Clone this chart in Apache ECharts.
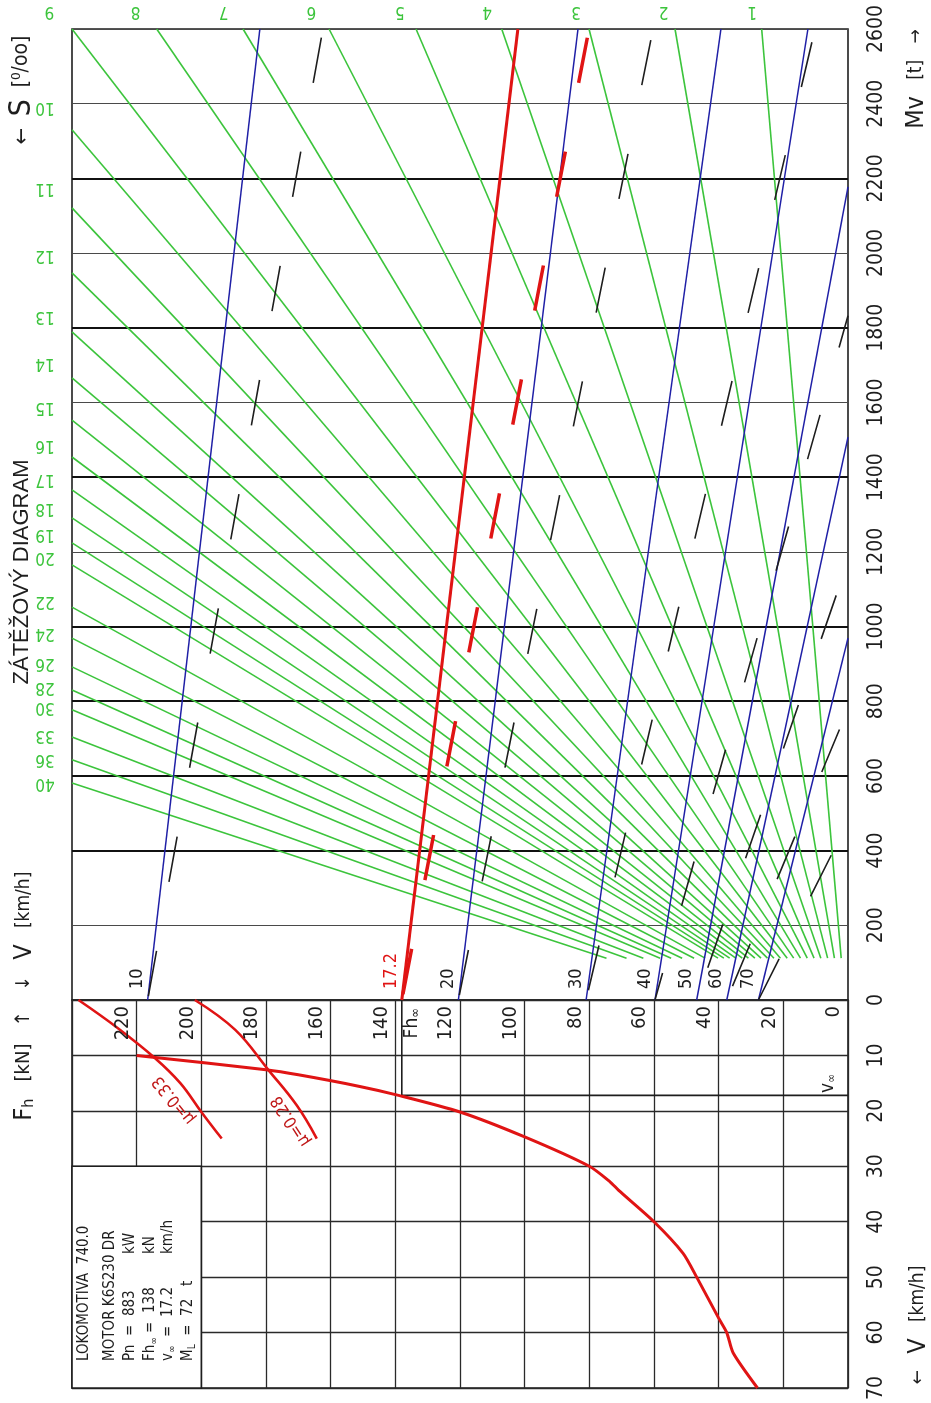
<!DOCTYPE html>
<html>
<head>
<meta charset="utf-8">
<title>Zátěžový diagram</title>
<script src="https://cdn.jsdelivr.net/npm/echarts@6.0.0/dist/echarts.min.js"></script>
<style>
  html, body { margin: 0; padding: 0; background: #fff; }
  #main { width: 931px; height: 1403px; }
</style>
</head>
<body>
<div id="main"></div>
<script>
// ---- data ----
// Mv axis (t), heavier grid lines
const mvHeavy = [400, 600, 800, 1000, 1400, 1800, 2200];

// speed lines: label, Fh at Mv = 0, end point
const speedLabels = ['10', '17.2', '20', '30', '40', '50', '60', '70'];
const speedFh0 = [216.6, 138.0, 120.5, 81.0, 59.7, 46.8, 37.5, 27.7];
const speedEndFh = [181.9, 102.1, 83.5, 39.3, 12.4, 0, 0, 0];
const speedEndMv = [2600, 2600, 2600, 2600, 2600, 2177, 1507, 969];
// dashed companion lines (same start point)
const dashEndFh = [162.4, 80.1, 60.3, 10.2, 0, 0, 0, 0];
const dashEndMv = [2600, 2600, 2600, 2600, 1832, 1175, 779, 477];

// grade lines S [promile]
const grades = [1, 2, 3, 4, 5, 6, 7, 8, 9, 10, 11, 12, 13, 14, 15, 16, 17, 18, 19, 20, 22, 24, 26, 28, 30, 33, 36, 40];
const gradeStartMv = 112;
const gradeStartFh = [2.1, 4.2, 6.3, 8.4, 10.5, 12.6, 14.7, 16.8, 18.8, 20.9, 22.9, 24.9, 26.9, 28.8, 30.8, 32.7, 34.7, 36.6, 38.4, 40.2, 44.2, 47.6, 51.3, 54.7, 58.1, 63.3, 68.5, 74.7];
const gradeEndFh = [26.7, 53.5, 80.1, 107.1, 133.6, 160.5, 187.1, 213.8, 240, 240, 240, 240, 240, 240, 240, 240, 240, 240, 240, 240, 240, 240, 240, 240, 240, 240, 240, 240];
const gradeEndMv = [2600, 2600, 2600, 2600, 2600, 2600, 2600, 2600, 2600, 2330, 2121, 1947, 1789, 1666, 1553, 1454, 1366, 1291, 1224, 1165, 1052, 969, 892, 830, 777, 704, 643, 581];

// tractive force Fh(V)
const tractV = [10, 12.6, 13.5, 15.6, 17.2, 20.2, 24.7, 30, 32.8, 34.3, 40, 45.7, 50, 57.4, 60, 63.7, 70];
const tractFh = [220, 180, 170, 151, 139, 120, 100, 80, 73.6, 71, 60, 51, 46.8, 40, 37.5, 35.5, 28];

// adhesion limits
const eta33V = [0, 5, 10.5, 15, 20.2, 25];
const eta33Fh = [238, 226, 214.3, 206.5, 200, 193.7];
const eta28V = [0, 5.4, 12.6, 19, 25];
const eta28Fh = [202, 189.5, 179.3, 170.5, 164.3];

// v-infinity / Fh-infinity marker
const fhInf = 138;
const vInf = 17.2;

// tick labels of the Fh axis in the lower part
const fhTicks = [0, 20, 40, 60, 80, 100, 120, 140, 160, 180, 200, 220];

// ---- styles ----
const GREEN = '#3cc43c';
const BLUE = '#1f1fa6';
const RED = '#e01414';
const DARKRED = '#c01818';
const INK = '#1e1e1e';
const NARROW = "'Liberation Sans Narrow', 'DejaVu Sans Condensed', 'Liberation Sans', sans-serif";
const ARIAL = "'Liberation Sans', Arial, sans-serif";
const dashPhase = [112, 110, 111, 106, 18, 82, 101, 0];

const chart = echarts.init(document.getElementById('main'));

const greenData = grades.map((s, i) => ({
  coords: [[gradeStartFh[i], gradeStartMv], [gradeEndFh[i], gradeEndMv[i]]]
}));
const blueData = [];
const dashData = [];
speedLabels.forEach((v, i) => {
  const red = v === '17.2';
  if (!red) {
    blueData.push({ coords: [[speedFh0[i], 0], [speedEndFh[i], speedEndMv[i]]] });
  }
  dashData.push({
    coords: [[speedFh0[i], 0], [dashEndFh[i], dashEndMv[i]]],
    lineStyle: {
      color: red ? RED : INK,
      width: red ? 3.5 : 1.6,
      type: [46, 70],
      dashOffset: dashPhase[i]
    }
  });
});

const plain = v => String(v);

const option = {
  animation: false,
  backgroundColor: '#fff',
  grid: [
    { left: 72, top: 29, width: 776, height: 971, show: true, borderColor: INK, borderWidth: 1.6 },
    { left: 72, top: 1000, width: 776, height: 388, show: true, borderColor: INK, borderWidth: 1.6 }
  ],
  xAxis: [
    {
      gridIndex: 0, type: 'value', min: 0, max: 240, inverse: true,
      axisLine: { show: false }, axisTick: { show: false }, axisLabel: { show: false }, splitLine: { show: false }
    },
    {
      gridIndex: 1, type: 'value', min: 0, max: 240, interval: 20, inverse: true,
      axisLine: { show: false }, axisTick: { show: false }, axisLabel: { show: false },
      splitLine: { show: true, lineStyle: { color: '#2a2a2a', width: 1.3 } }
    }
  ],
  yAxis: [
    {
      gridIndex: 0, type: 'value', min: 0, max: 2600, interval: 200, position: 'right',
      axisLine: { show: false }, axisTick: { show: false },
      axisLabel: { rotate: 90, margin: 18, color: INK, fontSize: 21, fontFamily: NARROW, formatter: plain },
      splitLine: { show: true, lineStyle: { color: '#4a4a4a', width: 1 } }
    },
    {
      gridIndex: 1, type: 'value', min: 0, max: 70, interval: 10, inverse: true, position: 'right',
      axisLine: { show: false }, axisTick: { show: false },
      axisLabel: { rotate: 90, margin: 18, color: INK, fontSize: 21, fontFamily: NARROW, showMinLabel: false, formatter: plain },
      splitLine: { show: true, lineStyle: { color: '#2a2a2a', width: 1.3 } }
    }
  ],
  series: [
    {
      type: 'lines', coordinateSystem: 'cartesian2d', xAxisIndex: 0, yAxisIndex: 0, silent: true, z: 1,
      lineStyle: { color: '#111', width: 2, opacity: 1 },
      data: mvHeavy.map(m => ({ coords: [[240, m], [0, m]] }))
    },
    {
      type: 'lines', coordinateSystem: 'cartesian2d', xAxisIndex: 0, yAxisIndex: 0, silent: true, z: 3,
      lineStyle: { color: GREEN, width: 1.6, opacity: 1 },
      data: greenData
    },
    {
      type: 'lines', coordinateSystem: 'cartesian2d', xAxisIndex: 0, yAxisIndex: 0, silent: true, z: 4,
      lineStyle: { color: BLUE, width: 1.5, opacity: 1 },
      data: blueData
    },
    {
      type: 'lines', coordinateSystem: 'cartesian2d', xAxisIndex: 0, yAxisIndex: 0, silent: true, z: 5,
      lineStyle: { color: INK, width: 1.6, opacity: 1 },
      data: dashData
    },
    {
      type: 'lines', coordinateSystem: 'cartesian2d', xAxisIndex: 0, yAxisIndex: 0, silent: true, z: 6,
      lineStyle: { color: RED, width: 3, opacity: 1 },
      data: [{ coords: [[speedFh0[1], 0], [speedEndFh[1], speedEndMv[1]]] }]
    },
    {
      type: 'line', xAxisIndex: 1, yAxisIndex: 1, silent: true, showSymbol: false, z: 3,
      lineStyle: { color: INK, width: 1.6 },
      data: [[fhInf, 0], [fhInf, vInf], [0, vInf]]
    },
    {
      type: 'line', xAxisIndex: 1, yAxisIndex: 1, silent: true, showSymbol: false, smooth: 0.25, z: 6,
      lineStyle: { color: RED, width: 3 },
      data: tractV.map((v, i) => [tractFh[i], v])
    },
    {
      type: 'line', xAxisIndex: 1, yAxisIndex: 1, silent: true, showSymbol: false, smooth: 0.4, z: 6,
      lineStyle: { color: RED, width: 2.6 },
      data: eta33V.map((v, i) => [eta33Fh[i], v])
    },
    {
      type: 'line', xAxisIndex: 1, yAxisIndex: 1, silent: true, showSymbol: false, smooth: 0.4, z: 6,
      lineStyle: { color: RED, width: 2.6 },
      data: eta28V.map((v, i) => [eta28Fh[i], v])
    }
  ]
};
chart.setOption(option);

// ---- annotations placed through the axes ----
const P0 = (fh, mv) => chart.convertToPixel({ gridIndex: 0 }, [fh, mv]);
const P1 = (fh, v) => chart.convertToPixel({ gridIndex: 1 }, [fh, v]);
const UP = Math.PI / 2;

function label(x, y, text, o) {
  return {
    type: 'text', x: x, y: y, rotation: o.rot == null ? UP : o.rot, z: 100, silent: true,
    style: {
      text: text, fill: o.color || INK, font: o.font,
      align: o.align || 'center', verticalAlign: o.va || 'middle', rich: o.rich
    }
  };
}

const g = [];

// info box in the lower-left corner
const b0 = P1(240, 30), b1 = P1(200, 70);
g.push({
  type: 'rect', z: 50, silent: true,
  shape: { x: b0[0], y: b0[1], width: b1[0] - b0[0], height: b1[1] - b0[1] },
  style: { fill: '#fff', stroke: INK, lineWidth: 1.6 }
});
const boxFont = '15px ' + NARROW;
const boxRich = { s: { fontSize: 10, fontFamily: NARROW, padding: [8, 0, 0, 0] }, n: { fontSize: 15, fontFamily: NARROW } };
g.push(label(84, 1361, 'LOKOMOTIVA  740.0', { font: boxFont, align: 'left' }));
g.push(label(110, 1361, 'MOTOR K6S230 DR', { font: boxFont, align: 'left' }));
g.push(label(130, 1361, 'Pn  =  883', { font: boxFont, align: 'left' }));
g.push(label(130, 1254, 'kW', { font: boxFont, align: 'left' }));
g.push(label(150, 1361, '{n|Fh}{s|∞}{n| =  138}', { font: boxFont, align: 'left', rich: boxRich }));
g.push(label(150, 1254, 'kN', { font: boxFont, align: 'left' }));
g.push(label(168, 1361, '{n|v}{s|∞}{n|  =  17.2}', { font: boxFont, align: 'left', rich: boxRich }));
g.push(label(168, 1254, 'km/h', { font: boxFont, align: 'left' }));
g.push(label(188, 1361, '{n|M}{s|L}{n|  =  72   t}', { font: boxFont, align: 'left', rich: boxRich }));

// Fh tick labels inside the lower part
fhTicks.forEach(f => {
  const p = P1(f, 0);
  g.push(label(p[0] - 14, p[1] + 6, String(f), { font: '20px ' + NARROW, align: 'right' }));
});
const pInf = P1(fhInf, 0);
g.push(label(pInf[0] + 10, pInf[1] + 8, '{n|Fh}{s|∞}', {
  align: 'right', rich: { n: { fontSize: 19, fontFamily: NARROW, fill: INK }, s: { fontSize: 13, fontFamily: NARROW, fill: INK, padding: [8, 0, 0, 0] } }
}));
const pV = P1(5, vInf);
g.push(label(pV[0] - 4, pV[1] - 12, '{n|v}{s|∞}', {
  rich: { n: { fontSize: 19, fontFamily: NARROW, fill: INK }, s: { fontSize: 12, fontFamily: NARROW, fill: INK, padding: [8, 0, 0, 0] } }
}));

// adhesion labels
g.push(label(174, 1100, 'μ=0.33', { font: '17px ' + NARROW, color: DARKRED, rot: 2.25 }));
g.push(label(291, 1121, 'μ=0.28', { font: '17px ' + NARROW, color: DARKRED, rot: 2.15 }));

// speed line labels at Mv = 0
speedLabels.forEach((v, i) => {
  const p = P0(speedFh0[i], 0);
  g.push(label(p[0] - 10, p[1] - 11, v, { font: '18px ' + NARROW, align: 'left', color: v === '17.2' ? RED : INK }));
});

// grade labels along the extension of each line
grades.forEach((s, i) => {
  const a = P0(gradeStartFh[i], gradeStartMv), b = P0(gradeEndFh[i], gradeEndMv[i]);
  const dx = b[0] - a[0], dy = b[1] - a[1];
  let lx, ly;
  if (gradeEndMv[i] >= 2600) {
    const t = (10 - a[1]) / dy;
    lx = a[0] + dx * t - 8; ly = 11;
  } else {
    const t = (45 - a[0]) / dx;
    lx = 45; ly = a[1] + dy * t + 9;
  }
  g.push(label(lx, ly, String(s), { font: '17px ' + NARROW, color: GREEN, rot: Math.PI }));
});

// axis titles
g.push(label(22, 572, 'ZÁTĚŽOVÝ DIAGRAM', { font: '22px ' + ARIAL }));
g.push(label(22, 90, '{a|←}{sp|   }{s|S}{sp|   }{u|[⁰/oo]}', {
  rich: { a: { fontSize: 22, fontFamily: NARROW, fill: INK }, s: { fontSize: 30, fontFamily: NARROW, fill: INK }, u: { fontSize: 21, fontFamily: NARROW, fill: INK }, sp: { fontSize: 14 } }
}));
g.push(label(24, 1066, '{f|F}{h|h}{u|   [kN]   ↑}', {
  rich: { f: { fontSize: 25, fontFamily: NARROW, fill: INK }, h: { fontSize: 16, fontFamily: NARROW, fill: INK, padding: [10, 0, 0, 0] }, u: { fontSize: 20, fontFamily: NARROW, fill: INK } }
}));
g.push(label(24, 931, '{a|↓   }{v|V}{u|   [km/h]}', {
  rich: { a: { fontSize: 19, fontFamily: NARROW, fill: INK }, v: { fontSize: 25, fontFamily: NARROW, fill: INK }, u: { fontSize: 19, fontFamily: NARROW, fill: INK } }
}));
g.push(label(916, 79, '{v|Mv}{u|   [t]   →}', {
  rich: { v: { fontSize: 25, fontFamily: NARROW, fill: INK }, u: { fontSize: 19, fontFamily: NARROW, fill: INK } }
}));
g.push(label(918, 1325, '{a|←   }{v|V}{u|   [km/h]}', {
  rich: { a: { fontSize: 19, fontFamily: NARROW, fill: INK }, v: { fontSize: 25, fontFamily: NARROW, fill: INK }, u: { fontSize: 19, fontFamily: NARROW, fill: INK } }
}));

chart.setOption({ graphic: g });
window.addEventListener('resize', () => { chart.resize(); });
</script>
</body>
</html>
